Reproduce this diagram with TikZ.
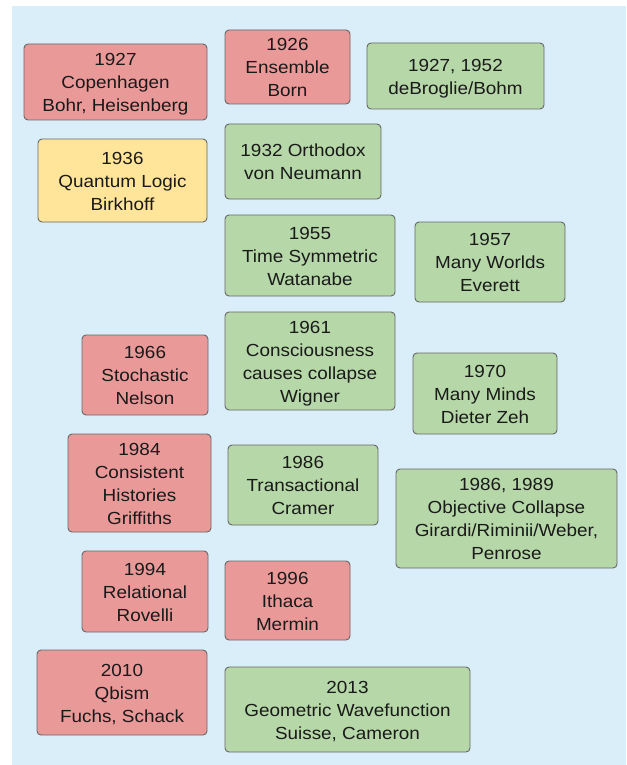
\documentclass[tikz,border=0pt]{standalone}
\usepackage{fontspec}
\setmainfont{Liberation Sans}[FakeStretch=1.08]
\definecolor{bgblue}{HTML}{DAEEF9}
\definecolor{boxred}{HTML}{EA9999}
\definecolor{boxgreen}{HTML}{B6D7A8}
\definecolor{boxyellow}{HTML}{FFE599}
\definecolor{boxline}{HTML}{666666}
\definecolor{txt}{HTML}{1A1A1A}
\tikzset{
  rbox/.style={draw=boxline, line width=0.9pt, rounded corners=4pt, inner sep=0pt},
  boxtext/.style={align=center, inner sep=0pt, text=txt, yshift=-4pt,
    font=\fontsize{17.5}{23}\selectfont,
    execute at begin node=\strut, execute at end node=\strut},
  redbox/.style={rbox, fill=boxred},
  greenbox/.style={rbox, fill=boxgreen},
  yellowbox/.style={rbox, fill=boxyellow},
}
\begin{document}
\begin{tikzpicture}[x=1pt,y=-1pt]
\useasboundingbox (0,0) rectangle (626,765);
\fill[bgblue] (12,6) rectangle (626,765);
\node[redbox, minimum width=183pt, minimum height=76pt, label={[boxtext]center:{1927\\Copenhagen\\Bohr, Heisenberg}}] (cop) at (115.5,82) {};
\node[redbox, minimum width=125pt, minimum height=74pt, label={[boxtext]center:{1926\\Ensemble\\Born}}] (ens) at (287.5,67) {};
\node[greenbox, minimum width=177pt, minimum height=66pt, label={[boxtext]center:{1927, 1952\\deBroglie/Bohm}}] (bohm) at (455.5,76) {};
\node[yellowbox, minimum width=169pt, minimum height=83pt, label={[boxtext]center:{1936\\Quantum Logic\\Birkhoff}}] (qlog) at (122.5,180.5) {};
\node[greenbox, minimum width=156pt, minimum height=75pt, label={[boxtext]center:{1932 Orthodox\\von Neumann}}] (orth) at (303,161.5) {};
\node[greenbox, minimum width=170pt, minimum height=81pt, label={[boxtext]center:{1955\\Time Symmetric\\Watanabe}}] (tsym) at (310,255.5) {};
\node[greenbox, minimum width=150pt, minimum height=80pt, label={[boxtext]center:{1957\\Many Worlds\\Everett}}] (mw) at (490,262) {};
\node[greenbox, minimum width=170pt, minimum height=98pt, label={[boxtext]center:{1961\\Consciousness\\causes collapse\\Wigner}}] (cons) at (310,361) {};
\node[redbox, minimum width=126pt, minimum height=80pt, label={[boxtext]center:{1966\\Stochastic\\Nelson}}] (stoch) at (145,375) {};
\node[greenbox, minimum width=144pt, minimum height=81pt, label={[boxtext]center:{1970\\Many Minds\\Dieter Zeh}}] (mm) at (485,393.5) {};
\node[redbox, minimum width=143pt, minimum height=98pt, label={[boxtext]center:{1984\\Consistent\\Histories\\Griffiths}}] (hist) at (139.5,483) {};
\node[greenbox, minimum width=150pt, minimum height=80pt, label={[boxtext]center:{1986\\Transactional\\Cramer}}] (trans) at (303,485) {};
\node[greenbox, minimum width=221pt, minimum height=99pt, label={[boxtext]center:{1986, 1989\\Objective Collapse\\Girardi/Riminii/Weber,\\Penrose}}] (objc) at (506.5,518.5) {};
\node[redbox, minimum width=126pt, minimum height=81pt, label={[boxtext]center:{1994\\Relational\\Rovelli}}] (rel) at (145,591.5) {};
\node[redbox, minimum width=125pt, minimum height=79pt, label={[boxtext]center:{1996\\Ithaca\\Mermin}}] (ith) at (287.5,600.5) {};
\node[redbox, minimum width=170pt, minimum height=85pt, label={[boxtext]center:{2010\\Qbism\\Fuchs, Schack}}] (qb) at (122,692.5) {};
\node[greenbox, minimum width=245pt, minimum height=85pt, label={[boxtext]center:{2013\\Geometric Wavefunction\\Suisse, Cameron}}] (geo) at (347.5,709.5) {};
\end{tikzpicture}
\end{document}
